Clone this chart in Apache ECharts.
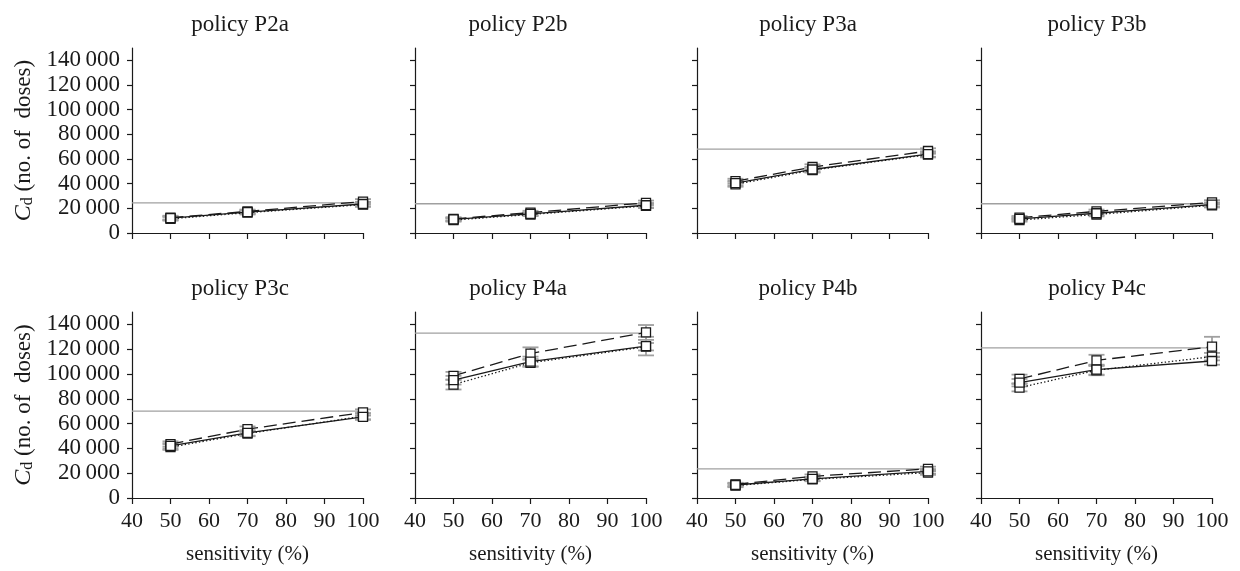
<!DOCTYPE html>
<html>
<head>
<meta charset="utf-8">
<script src="https://cdn.jsdelivr.net/npm/echarts@6/dist/echarts.min.js"></script>
<style>
  html, body { margin: 0; padding: 0; background: #fff; }
  #chart { width: 1240px; height: 571px; }
</style>
</head>
<body>
<div id="chart"></div>
<script>
// Sensitivity levels (%) at which the dose requirement was evaluated
const sensitivities = [50, 70, 100];
const policies = ['P2a', 'P2b', 'P3a', 'P3b', 'P3c', 'P4a', 'P4b', 'P4c'];

// Reference dose level per policy (grey horizontal line)
const thresholds = [24500, 23700, 68000, 23700, 70000, 133000, 23500, 121000];

// C_d per policy at 50 / 70 / 100 % sensitivity
const solidValues = [
  [12000, 17000, 23500],
  [11000, 15500, 22500],
  [40500, 51500, 64000],
  [11500, 16000, 23000],
  [42000, 52500, 65500],
  [95000, 110000, 122500],
  [10500, 15500, 21500],
  [93000, 103500, 110500]
];
const dashedValues = [
  [12500, 17500, 25500],
  [11500, 16500, 24500],
  [42000, 53500, 66500],
  [12500, 17500, 24800],
  [43500, 55500, 69000],
  [98500, 116500, 133500],
  [11000, 17500, 23500],
  [96000, 111000, 122000]
];
const dottedValues = [
  [11500, 16500, 23000],
  [10500, 15000, 22000],
  [39500, 51000, 63500],
  [10500, 15000, 22500],
  [41000, 52000, 66000],
  [91500, 109000, 122000],
  [10000, 15000, 20500],
  [89000, 103000, 114000]
];

// Half-widths of the uncertainty bars
const solidErrors = [
  [1500, 1500, 1800], [1300, 1300, 1800], [2000, 2000, 2200], [1300, 1500, 1800],
  [2200, 2200, 2500], [3500, 4000, 7500], [1300, 1500, 1800], [3000, 4000, 3000]
];
const dashedErrors = [
  [1500, 1500, 2000], [1300, 1500, 1800], [2000, 2200, 2200], [1300, 1500, 1800],
  [2200, 2200, 2500], [3200, 5000, 6000], [1300, 1500, 1800], [3500, 4500, 8000]
];
const dottedErrors = [
  [1500, 1500, 1800], [1300, 1300, 1800], [2000, 2000, 2200], [1300, 1500, 1800],
  [2200, 2200, 2500], [4000, 3000, 3000], [1300, 1500, 1800], [3000, 4000, 3000]
];

const yTickValues = [0, 20000, 40000, 60000, 80000, 100000, 120000, 140000];

const FONT = '"Liberation Serif", "DejaVu Serif", serif';
const INK = '#1a1a1a';
const GREY = '#a0a0a0';

const colLeft = [132, 415, 697, 981];
const rowTop = [48, 312];
const plotW = 231;
const plotH = [185, 186];
const titleX = [240, 518, 808, 1097];
const titleY = [25, 289];

function fmt(v) {
  if (v === 0) return '0';
  const s = String(v);
  return s.slice(0, s.length - 3) + '\u2009' + s.slice(s.length - 3);
}

const grids = [], xAxes = [], yAxes = [], series = [], graphics = [];

policies.forEach((p, i) => {
  const row = Math.floor(i / 4), col = i % 4;
  grids.push({ left: colLeft[col], top: rowTop[row], width: plotW, height: plotH[row], containLabel: false });

  graphics.push({
    type: 'text', x: titleX[col], y: titleY[row], silent: true,
    style: { text: 'policy ' + p, font: '23px ' + FONT, fill: INK, align: 'center', verticalAlign: 'middle' }
  });

  const bottom = row === 1;
  xAxes.push({
    gridIndex: i, type: 'value', min: 40, max: 100, interval: 10,
    axisLine: { show: true, lineStyle: { color: INK, width: 1.2 } },
    axisTick: { show: true, length: 6, lineStyle: { color: INK, width: 1.2 } },
    axisLabel: { show: bottom, fontFamily: FONT, fontSize: 22, color: INK, margin: 12 },
    splitLine: { show: false },
    name: bottom ? 'sensitivity (%)' : '',
    nameLocation: 'middle', nameGap: 46,
    nameTextStyle: { fontFamily: FONT, fontSize: 21, color: INK }
  });

  const first = col === 0;
  yAxes.push({
    gridIndex: i, type: 'value', min: 0, max: 150000, interval: 20000,
    axisLine: { show: true, lineStyle: { color: INK, width: 1.2 } },
    axisTick: { show: true, length: 5, customValues: yTickValues, lineStyle: { color: INK, width: 1.2 } },
    axisLabel: {
      show: first, customValues: yTickValues, formatter: fmt,
      fontFamily: FONT, fontSize: 23, color: INK, margin: 12
    },
    splitLine: { show: false },
    name: first ? '{c|C}{sub|d}{t| (no. of  doses)}' : '',
    nameLocation: 'middle', nameRotate: 90, nameGap: 96,
    nameTextStyle: {
      fontFamily: FONT, fontSize: 23, color: INK,
      rich: {
        c: { fontFamily: FONT, fontSize: 24, fontStyle: 'italic', color: INK, lineHeight: 24, verticalAlign: 'top' },
        sub: { fontFamily: FONT, fontSize: 16, color: INK, lineHeight: 16, padding: [12, 0, 0, 0], verticalAlign: 'bottom' },
        t: { fontFamily: FONT, fontSize: 23, color: INK, lineHeight: 24, verticalAlign: 'top' }
      }
    }
  });

  // reference level
  series.push({
    type: 'line', xAxisIndex: i, yAxisIndex: i, silent: true, z: 1,
    symbol: 'none', lineStyle: { color: GREY, width: 1.3 },
    data: [[40, thresholds[i]], [100, thresholds[i]]]
  });

  const groups = [
    { vals: dottedValues[i], errs: dottedErrors[i], type: [1.4, 2.2] },
    { vals: dashedValues[i], errs: dashedErrors[i], type: [13, 6] },
    { vals: solidValues[i], errs: solidErrors[i], type: 'solid' }
  ];

  groups.forEach(g => {
    series.push({
      type: 'custom', xAxisIndex: i, yAxisIndex: i, silent: true, z: 2,
      data: sensitivities.map((s, k) => [s, g.vals[k] - g.errs[k], g.vals[k] + g.errs[k]]),
      renderItem: (params, api) => {
        const x = api.value(0);
        const lo = api.coord([x, api.value(1)]);
        const hi = api.coord([x, api.value(2)]);
        const w = 8;
        const st = { stroke: GREY, lineWidth: 1.8 };
        return {
          type: 'group',
          children: [
            { type: 'line', shape: { x1: hi[0], y1: hi[1], x2: lo[0], y2: lo[1] }, style: st },
            { type: 'line', shape: { x1: hi[0] - w, y1: hi[1], x2: hi[0] + w, y2: hi[1] }, style: st },
            { type: 'line', shape: { x1: lo[0] - w, y1: lo[1], x2: lo[0] + w, y2: lo[1] }, style: st }
          ]
        };
      }
    });
  });

  groups.forEach(g => {
    series.push({
      type: 'line', xAxisIndex: i, yAxisIndex: i, z: 3,
      data: sensitivities.map((s, k) => [s, g.vals[k]]),
      symbol: 'rect', symbolSize: 9, showAllSymbol: true,
      lineStyle: { color: INK, width: 1.3, type: g.type },
      itemStyle: { color: '#fff', borderColor: INK, borderWidth: 1.3 }
    });
  });
});

const chart = echarts.init(document.getElementById('chart'), null, { renderer: 'canvas' });
chart.setOption({
  animation: false,
  backgroundColor: '#fff',
  grid: grids,
  xAxis: xAxes,
  yAxis: yAxes,
  series: series,
  graphic: graphics
});
</script>
</body>
</html>
